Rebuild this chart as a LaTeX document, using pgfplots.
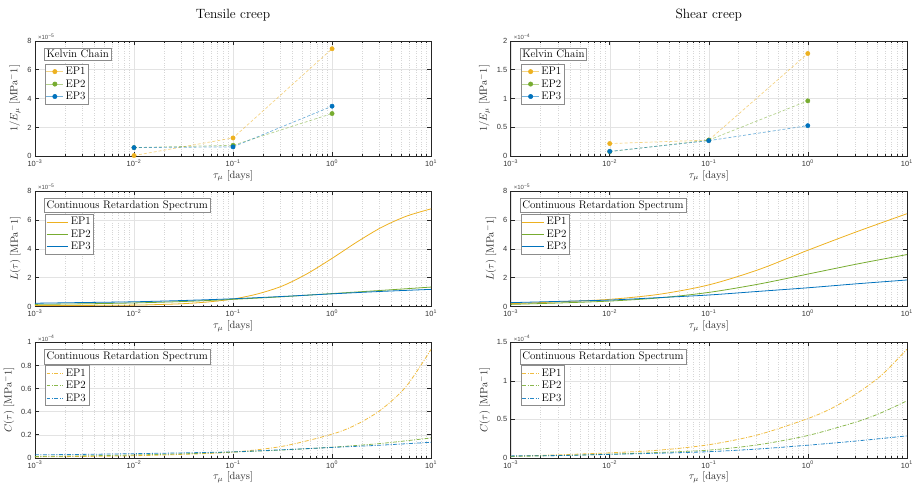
\RequirePackage{fix-cm}
\documentclass[border=0pt]{standalone}
\usepackage{fontspec}
\setsansfont{Liberation Sans}
\usepackage{pgfplots}
\pgfplotsset{compat=1.18}

\definecolor{cA}{HTML}{EDB120}
\definecolor{cB}{HTML}{77AC30}
\definecolor{cC}{HTML}{0072BD}
\newcommand\dec[1]{10\textsuperscript{#1}}

% all panels share these axis options
\newcommand\beginpanel[1]{%
\begin{axis}[xmode=log,
    scale only axis, width=398pt, height=116pt,
    clip mode=individual,
    xmin=1e-3, xmax=10,
    xtick={1e-3,1e-2,1e-1,1,10},
    xticklabels={\dec{−3},\dec{−2},\dec{−1},\dec{0},\dec{1}},
    minor xtick={2e-3,3e-3,4e-3,5e-3,6e-3,7e-3,8e-3,9e-3,
                 2e-2,3e-2,4e-2,5e-2,6e-2,7e-2,8e-2,9e-2,
                 2e-1,3e-1,4e-1,5e-1,6e-1,7e-1,8e-1,9e-1,
                 2,3,4,5,6,7,8,9},
    xmajorgrids, xminorgrids, ymajorgrids,
    major grid style={black!11, line width=0.4pt},
    minor grid style={black!16, dotted, line width=0.4pt},
    tick align=inside, major tick length=4pt, minor tick length=2pt,
    axis line style={black!85, line width=0.6pt},
    tick style={black!85, line width=0.5pt},
    tick label style={font=\sffamily\fontsize{7.5}{8.5}\selectfont, text=black!80},
    xlabel style={font=\fontsize{10.5}{12}\selectfont, text=black!85, yshift=3pt},
    ylabel style={font=\fontsize{10.5}{12}\selectfont, text=black!85},
    xlabel={$\tau_\mu$ [days]},
    title style={font=\fontsize{13.5}{15}\selectfont, yshift=10pt},
    legend cell align=left,
    legend style={at={(0.025,0.80)}, anchor=north west, draw=black!45, fill=white,
      font=\fontsize{11}{12}\selectfont, inner sep=1pt, row sep=-0.5pt,
      line width=0.5pt},
    /pgf/number format/assume math mode=true,
    anchor=south west, #1]}
\newcommand\expnote[1]{\node[anchor=south west, inner sep=1pt, xshift=2pt,
  font=\sffamily\fontsize{6}{7}\selectfont, text=black!70]
  at (rel axis cs:0,1) {×10\textsuperscript{#1}};}
\newcommand\legtitle[1]{\node[anchor=north west, draw=black!45, fill=white, inner sep=2.2pt,
  line width=0.5pt, font=\fontsize{11}{12}\selectfont]
  at (rel axis cs:0.023,0.94) {#1};}

\tikzset{
  kelline/.style={dash pattern=on 3pt off 2pt, line width=0.7pt, opacity=0.55},
  specline/.style={line width=0.8pt, smooth},
  specdd/.style={line width=0.8pt, smooth, opacity=0.85,
    dash pattern=on 4pt off 1.5pt on 1pt off 1.5pt},
}

\begin{document}
\begin{tikzpicture}
\path (0pt,0pt) rectangle (916pt,-493pt);

% ---------- Tensile creep, Kelvin chain
\beginpanel{at={(32pt,-157pt)}, ymin=0, ymax=8, ytick={0,2,4,6,8},
  ylabel={$1/E_\mu$ [MPa$^-1$]}, title={Tensile creep}}
\addplot[cA, kelline, forget plot] coordinates {(0.01,0.05) (0.1,1.27) (1,7.45)};
\addplot[cB, kelline, forget plot] coordinates {(0.01,0.6) (0.1,0.76) (1,2.96)};
\addplot[cC, kelline, forget plot] coordinates {(0.01,0.6) (0.1,0.65) (1,3.47)};
\addplot[cA, only marks, mark=*, mark size=2.2pt,
  legend image code/.code={\draw[cA!55, line width=0.6pt] (0pt,0pt) -- (17pt,0pt); \fill[cA] (8.5pt,0pt) circle (2.2pt);}]
  coordinates {(0.01,0.05) (0.1,1.27) (1,7.45)};
\addlegendentry{EP1}
\addplot[cB, only marks, mark=*, mark size=2.2pt,
  legend image code/.code={\draw[cB!55, line width=0.6pt] (0pt,0pt) -- (17pt,0pt); \fill[cB] (8.5pt,0pt) circle (2.2pt);}]
  coordinates {(0.01,0.6) (0.1,0.76) (1,2.96)};
\addlegendentry{EP2}
\addplot[cC, only marks, mark=*, mark size=2.2pt,
  legend image code/.code={\draw[cC!55, line width=0.6pt] (0pt,0pt) -- (17pt,0pt); \fill[cC] (8.5pt,0pt) circle (2.2pt);}]
  coordinates {(0.01,0.6) (0.1,0.65) (1,3.47)};
\addlegendentry{EP3}
\expnote{−5}
\legtitle{Kelvin Chain}
\end{axis}

% ---------- Shear creep, Kelvin chain
\beginpanel{at={(510pt,-157pt)}, ymin=0, ymax=2, ytick={0,0.5,1,1.5,2},
  ylabel={$1/E_\mu$ [MPa$^-1$]}, title={Shear creep}}
\addplot[cA, kelline, forget plot] coordinates {(0.01,0.22) (0.1,0.28) (1,1.78)};
\addplot[cB, kelline, forget plot] coordinates {(0.01,0.08) (0.1,0.28) (1,0.96)};
\addplot[cC, kelline, forget plot] coordinates {(0.01,0.085) (0.1,0.27) (1,0.53)};
\addplot[cA, only marks, mark=*, mark size=2.2pt,
  legend image code/.code={\draw[cA!55, line width=0.6pt] (0pt,0pt) -- (17pt,0pt); \fill[cA] (8.5pt,0pt) circle (2.2pt);}]
  coordinates {(0.01,0.22) (0.1,0.28) (1,1.78)};
\addlegendentry{EP1}
\addplot[cB, only marks, mark=*, mark size=2.2pt,
  legend image code/.code={\draw[cB!55, line width=0.6pt] (0pt,0pt) -- (17pt,0pt); \fill[cB] (8.5pt,0pt) circle (2.2pt);}]
  coordinates {(0.01,0.08) (0.1,0.28) (1,0.96)};
\addlegendentry{EP2}
\addplot[cC, only marks, mark=*, mark size=2.2pt,
  legend image code/.code={\draw[cC!55, line width=0.6pt] (0pt,0pt) -- (17pt,0pt); \fill[cC] (8.5pt,0pt) circle (2.2pt);}]
  coordinates {(0.01,0.085) (0.1,0.27) (1,0.53)};
\addlegendentry{EP3}
\expnote{−4}
\legtitle{Kelvin Chain}
\end{axis}

% ---------- Tensile creep, L(tau)
\beginpanel{at={(32pt,-308pt)}, ymin=0, ymax=8, ytick={0,2,4,6,8},
  ylabel={$L(\tau)$ [MPa$^-1$]}}
\addplot[cA, specline, legend image code/.code={\draw[cA, line width=0.8pt] (0pt,0pt) -- (22pt,0pt);}]
  coordinates {(0.001,0.07) (0.00316,0.08) (0.01,0.10) (0.0178,0.14)
  (0.0316,0.20) (0.0562,0.32) (0.1,0.52) (0.178,0.88) (0.316,1.43) (0.562,2.28) (1,3.34)
  (1.78,4.47) (3.16,5.49) (5.62,6.26) (10,6.77)};
\addlegendentry{EP1}
\addplot[cB, specline, legend image code/.code={\draw[cB, line width=0.8pt] (0pt,0pt) -- (22pt,0pt);}]
  coordinates {(0.001,0.15) (0.00316,0.19) (0.01,0.25) (0.0316,0.35)
  (0.1,0.5) (0.316,0.68) (1,0.9) (3.16,1.12) (10,1.35)};
\addlegendentry{EP2}
\addplot[cC, specline, legend image code/.code={\draw[cC, line width=0.8pt] (0pt,0pt) -- (22pt,0pt);}]
  coordinates {(0.001,0.23) (0.00316,0.28) (0.01,0.33) (0.0316,0.42)
  (0.1,0.54) (0.316,0.7) (1,0.88) (3.16,1.05) (10,1.19)};
\addlegendentry{EP3}
\expnote{−5}
\legtitle{Continuous Retardation Spectrum}
\end{axis}

% ---------- Shear creep, L(tau)
\beginpanel{at={(510pt,-308pt)}, ymin=0, ymax=8, ytick={0,2,4,6,8},
  ylabel={$L(\tau)$ [MPa$^-1$]}}
\addplot[cA, specline, legend image code/.code={\draw[cA, line width=0.8pt] (0pt,0pt) -- (22pt,0pt);}]
  coordinates {(0.001,0.2) (0.00316,0.33) (0.01,0.5) (0.0316,0.85)
  (0.1,1.5) (0.316,2.55) (1,3.9) (3.16,5.2) (10,6.43)};
\addlegendentry{EP1}
\addplot[cB, specline, legend image code/.code={\draw[cB, line width=0.8pt] (0pt,0pt) -- (22pt,0pt);}]
  coordinates {(0.001,0.15) (0.00316,0.25) (0.01,0.38) (0.0316,0.6)
  (0.1,0.98) (0.316,1.55) (1,2.25) (3.16,2.95) (10,3.6)};
\addlegendentry{EP2}
\addplot[cC, specline, legend image code/.code={\draw[cC, line width=0.8pt] (0pt,0pt) -- (22pt,0pt);}]
  coordinates {(0.001,0.27) (0.00316,0.36) (0.01,0.45) (0.0316,0.62)
  (0.1,0.8) (0.316,1.05) (1,1.3) (3.16,1.58) (10,1.84)};
\addlegendentry{EP3}
\expnote{−5}
\legtitle{Continuous Retardation Spectrum}
\end{axis}

% ---------- Tensile creep, C(tau)
\beginpanel{at={(32pt,-460pt)}, ymin=0, ymax=1, ytick={0,0.2,0.4,0.6,0.8,1},
  ylabel={$C(\tau)$ [MPa$^-1$]}}
\addplot[cA, specdd, legend image code/.code={\draw[cA, line width=0.8pt, dash pattern=on 4pt off 1.5pt on 1pt off 1.5pt] (0pt,0pt) -- (17pt,0pt);}]
  coordinates {(0.001,0.008) (0.00316,0.012) (0.01,0.018) (0.0316,0.03)
  (0.1,0.05) (0.316,0.1) (1,0.205) (1.78,0.29) (3.16,0.42) (5.62,0.62) (10,0.94)};
\addlegendentry{EP1}
\addplot[cB, specdd, legend image code/.code={\draw[cB, line width=0.8pt, dash pattern=on 4pt off 1.5pt on 1pt off 1.5pt] (0pt,0pt) -- (17pt,0pt);}]
  coordinates {(0.001,0.012) (0.00316,0.017) (0.01,0.025) (0.0316,0.035)
  (0.1,0.05) (0.316,0.068) (1,0.092) (3.16,0.125) (10,0.172)};
\addlegendentry{EP2}
\addplot[cC, specdd, legend image code/.code={\draw[cC, line width=0.8pt, dash pattern=on 4pt off 1.5pt on 1pt off 1.5pt] (0pt,0pt) -- (17pt,0pt);}]
  coordinates {(0.001,0.026) (0.00316,0.03) (0.01,0.036) (0.0316,0.043)
  (0.1,0.052) (0.316,0.07) (1,0.09) (3.16,0.11) (10,0.135)};
\addlegendentry{EP3}
\expnote{−4}
\legtitle{Continuous Retardation Spectrum}
\end{axis}

% ---------- Shear creep, C(tau)
\beginpanel{at={(510pt,-460pt)}, ymin=0, ymax=1.5, ytick={0,0.5,1,1.5},
  ylabel={$C(\tau)$ [MPa$^-1$]}}
\addplot[cA, specdd, legend image code/.code={\draw[cA, line width=0.8pt, dash pattern=on 4pt off 1.5pt on 1pt off 1.5pt] (0pt,0pt) -- (17pt,0pt);}]
  coordinates {(0.001,0.02) (0.00316,0.04) (0.01,0.065) (0.0316,0.1)
  (0.1,0.17) (0.316,0.3) (1,0.51) (1.78,0.65) (3.16,0.84) (5.62,1.08) (10,1.41)};
\addlegendentry{EP1}
\addplot[cB, specdd, legend image code/.code={\draw[cB, line width=0.8pt, dash pattern=on 4pt off 1.5pt on 1pt off 1.5pt] (0pt,0pt) -- (17pt,0pt);}]
  coordinates {(0.001,0.018) (0.00316,0.03) (0.01,0.048) (0.0316,0.07)
  (0.1,0.1) (0.316,0.17) (1,0.29) (3.16,0.47) (5.62,0.59) (10,0.74)};
\addlegendentry{EP2}
\addplot[cC, specdd, legend image code/.code={\draw[cC, line width=0.8pt, dash pattern=on 4pt off 1.5pt on 1pt off 1.5pt] (0pt,0pt) -- (17pt,0pt);}]
  coordinates {(0.001,0.025) (0.00316,0.03) (0.01,0.045) (0.0316,0.06)
  (0.1,0.08) (0.316,0.115) (1,0.164) (3.16,0.22) (10,0.285)};
\addlegendentry{EP3}
\expnote{−4}
\legtitle{Continuous Retardation Spectrum}
\end{axis}
\end{tikzpicture}
\end{document}
